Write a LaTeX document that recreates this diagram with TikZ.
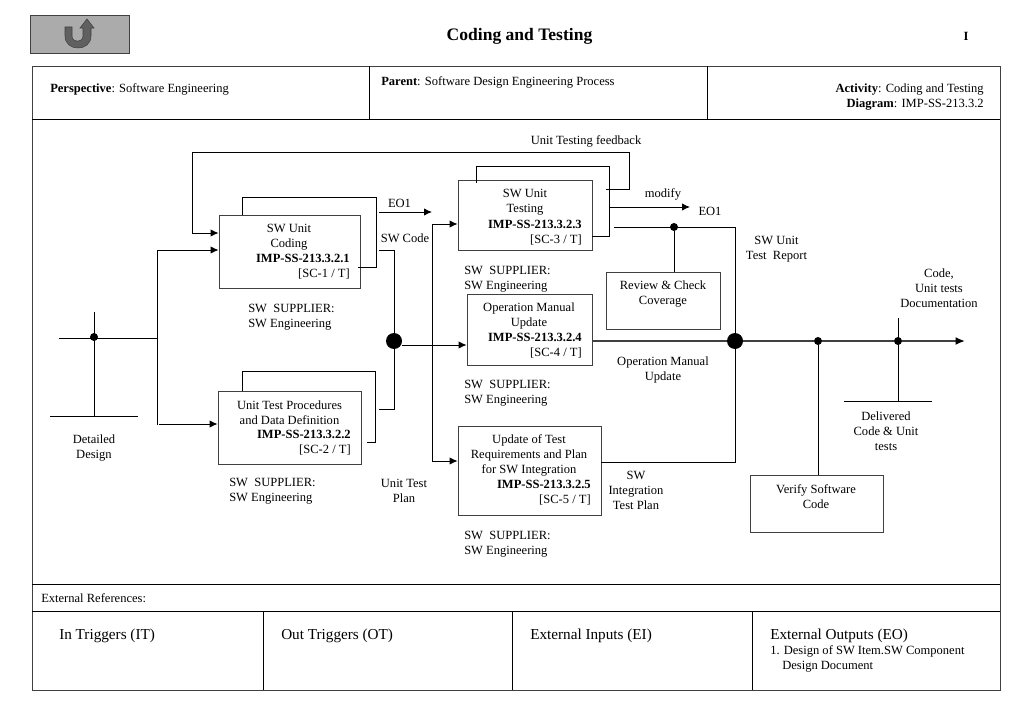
\documentclass[tikz,border=0pt]{standalone}
\usepackage{fontspec}
\setmainfont{Liberation Serif}
\usetikzlibrary{arrows.meta,fit}
\definecolor{btngray}{HTML}{ABABAB}
\definecolor{btndark}{HTML}{606060}
\definecolor{wiregray}{HTML}{404040}
\tikzset{
every node/.style={font=\fontsize{9.4}{11.25}\selectfont,inner sep=0pt},
procbox/.style={draw=wiregray,line width=0.65pt,inner sep=0pt},
wire/.style={draw=black,line width=0.65pt},
arrowwire/.style={wire,-{Latex[length=6pt,width=5.5pt]}},
mainwire/.style={draw=wiregray,line width=1.4pt},
smalldot/.style={circle,fill=black,minimum size=6pt},
bigdot/.style={circle,fill=black,minimum size=12pt},
lbl/.style={align=center},
suplbl/.style={align=left,anchor=west},
idlbl/.style={align=right,anchor=east},
colhead/.style={anchor=west,font=\fontsize{11.4}{13}\selectfont}
}
\begin{document}
\begin{tikzpicture}[x=0.75pt,y=-0.75pt]
\useasboundingbox (0,0) rectangle (1024,720);
% top strip
\node (btn) [fit={(30,15) (129,53)},fill=btngray,draw=wiregray,line width=0.6pt] {};
\fill[btndark,draw=wiregray,line width=0.4pt] (65,27) -- (72,27) -- (72,36) .. controls (72,43) and (83,43) .. (83,36) -- (83,28) -- (80,28) -- (87,19) -- (94,28) -- (91,28) -- (91,36) .. controls (91,52) and (65,52) .. (65,36) -- cycle;
% frame
\node (frame) [fit={(32,66) (1000,690)},draw=wiregray,line width=0.7pt] {};
\draw[wire] (32,119) -- (1000,119);
\draw[wire] (32,584) -- (1000,584);
\draw[wire] (32,611) -- (1000,611);
\draw[wire] (369,66) -- (369,119);
\draw[wire] (707,66) -- (707,119);
\draw[wire] (263,611) -- (263,690);
\draw[wire] (512,611) -- (512,690);
\draw[wire] (752,611) -- (752,690);
% boxes
\node (unitcoding) [procbox,fit={(219,215) (360,288)}] {};
\node (testproc) [procbox,fit={(218,391) (361,464)}] {};
\node (unittest) [procbox,fit={(458,180) (592,250)}] {};
\node (opmanual) [procbox,fit={(467,294) (592,365)}] {};
\node (updtest) [procbox,fit={(458,426) (601,515)}] {};
\node (review) [procbox,fit={(606,272) (720,329)}] {};
\node (verify) [procbox,fit={(750,475) (883,532)}] {};
% all the texts
\begin{scope}[every node/.append style={yshift=-1.1pt}]
\node (title) at (519.5,35) {\fontsize{13.15}{15}\selectfont\textbf{Coding and Testing}};
\node (pagenum) at (966,35) {\textbf{I}};
\node (persp) [anchor=west] at (50,88) {\textbf{Perspective}: Software Engineering};
\node (parent) [anchor=west] at (381,81) {\textbf{Parent}: Software Design Engineering Process};
\node (activity) [idlbl] at (984,95.5) {\textbf{Activity}: Coding and Testing\\\textbf{Diagram}: IMP-SS-213.3.2};
\node (extref) [anchor=west] at (41,597) {External References:};
\node (intrig) [colhead] at (59,634) {In Triggers (IT)};
\node (outtrig) [colhead] at (281,634) {Out Triggers (OT)};
\node (extin) [colhead] at (530,634) {External Inputs (EI)};
\node (extout) [colhead] at (770,634) {External Outputs (EO)};
\node (eoitem) [anchor=west] at (770,650) {1. Design of SW Item.SW Component};
\node (eoitemb) [anchor=west] at (782,665) {Design Document};
\node (tcoding) [lbl] at (289,235.5) {SW Unit\\Coding};
\node (icoding) [idlbl] at (350,265.5) {\textbf{IMP-SS-213.3.2.1}\\{[SC-1 / T]}};
\node (tproc) [lbl] at (289.5,411.5) {Unit Test Procedures\\and Data Definition};
\node (iproc) [idlbl] at (351,441.5) {\textbf{IMP-SS-213.3.2.2}\\{[SC-2 / T]}};
\node (ttest) [lbl] at (525,200.5) {SW Unit\\Testing};
\node (itest) [idlbl] at (582,231.5) {\textbf{IMP-SS-213.3.2.3}\\{[SC-3 / T]}};
\node (tmanual) [lbl] at (529,314.5) {Operation Manual\\Update};
\node (imanual) [idlbl] at (582,344.5) {\textbf{IMP-SS-213.3.2.4}\\{[SC-4 / T]}};
\node (tupd) [lbl] at (529,454) {Update of Test\\Requirements and Plan\\for SW Integration};
\node (iupd) [idlbl] at (591,491.5) {\textbf{IMP-SS-213.3.2.5}\\{[SC-5 / T]}};
\node (treview) [lbl] at (663,292.5) {Review \& Check\\Coverage};
\node (tverify) [lbl] at (816,495.5) {Verify Software\\Code};
\node (supa) [suplbl] at (248,315.5) {SW\ \ SUPPLIER:\\SW Engineering};
\node (supb) [suplbl] at (229,489.5) {SW\ \ SUPPLIER:\\SW Engineering};
\node (supc) [suplbl] at (464,277.5) {SW\ \ SUPPLIER:\\SW Engineering};
\node (supd) [suplbl] at (464,391.5) {SW\ \ SUPPLIER:\\SW Engineering};
\node (supe) [suplbl] at (464,542.5) {SW\ \ SUPPLIER:\\SW Engineering};
\node (ldesign) [lbl] at (94,446.5) {Detailed\\Design};
\node (leoa) at (399.5,202) {EO1};
\node (lcode) at (405,237) {SW Code};
\node (lplan) [lbl] at (404,489.5) {Unit Test\\Plan};
\node (lmodify) at (663,193) {modify};
\node (leob) at (710,210) {EO1};
\node (lfeedback) at (586,140) {Unit Testing feedback};
\node (lreport) [lbl] at (776.5,247.5) {SW Unit\\Test\ \ Report};
\node (loutput) [lbl] at (939,287) {Code,\\Unit tests\\Documentation};
\node (lmanual) [lbl] at (663,368.5) {Operation Manual\\Update};
\node (lintplan) [lbl] at (636,489) {SW\\Integration\\Test Plan};
\node (ldeliv) [lbl] at (886,429.5) {Delivered\\Code \& Unit\\tests};
\end{scope}
% junctions
\node (jinput) [smalldot] at (94,337) {};
\node (jmerge) [bigdot] at (394,341) {};
\node (jout) [bigdot] at (735,341) {};
\node (jreview) [smalldot] at (674,227) {};
\node (jverify) [smalldot] at (818,341) {};
\node (jdeliv) [smalldot] at (898,341) {};
% free ends
\coordinate (intop) at (94,312);
\coordinate (inbase) at (94,416);
\coordinate (inbarl) at (50,416);
\coordinate (inbarr) at (138,416);
\coordinate (inleft) at (59,338);
\coordinate (split) at (157,338);
\coordinate (splitt) at (157,250);
\coordinate (splitb) at (157,425);
\coordinate (outb) at (159,424);
\coordinate (fbstart) at (606,189);
\coordinate (fbcorner) at (629,152);
\coordinate (fbin) at (192,233);
\coordinate (codeout) at (379,250);
\coordinate (planout) at (379,409);
\coordinate (eoin) at (379,212);
\coordinate (eoend) at (432,212);
\coordinate (feedt) at (432,224);
\coordinate (feedb) at (432,461);
\coordinate (feedm) at (432,345);
\coordinate (modstart) at (610,207);
\coordinate (modend) at (690,207);
\coordinate (repstart) at (614,227);
\coordinate (repcorner) at (735,227);
\coordinate (intcorner) at (735,462);
\coordinate (mainend) at (965,341);
\coordinate (delivtop) at (898,318);
\coordinate (delivbase) at (898,401);
\coordinate (delivl) at (844,401);
\coordinate (delivr) at (932,401);
% input
\draw[wire] (intop) -- (inbase);
\draw[wire] (inbarl) -- (inbarr);
\draw[wire] (inleft) -- (split);
\draw[wire] (splitt) -- (splitb);
\draw[arrowwire] (splitt) -- (splitt -| unitcoding.west);
\draw[arrowwire] (outb) -- (outb -| testproc.west);
% self loops
\draw[wire] (242,215) |- (376,197) |- (358,267);
\draw[wire] (242,391) |- (375,371) |- (367,442);
\draw[wire] (476,183) |- (609,166) |- (unittest.east |- 0,236);
% feedback
\draw[arrowwire] (fbstart) -| (fbcorner) -| (fbin) -- (fbin -| unitcoding.west);
% outputs of the two left boxes
\draw[wire] (codeout) -| (jmerge);
\draw[wire] (planout) -| (jmerge);
\draw[arrowwire] (eoin) -- (eoend);
\draw[arrowwire] (jmerge.east |- feedm) -- (feedm -| opmanual.west);
\draw[wire] (feedt) -- (feedb);
\draw[arrowwire] (feedt) -- (feedt -| unittest.west);
\draw[arrowwire] (feedb) -- (feedb -| updtest.west);
\draw[arrowwire] (modstart) -- (modend);
% right side
\draw[wire] (repstart) -- (repcorner) -- (intcorner) -- (intcorner -| updtest.east);
\draw[wire] (jreview) -- (review.north -| jreview);
\draw[mainwire] (opmanual.east |- jout) -- (jout);
\draw[mainwire] (jout) -- (jverify);
\draw[mainwire] (jverify) -- (jdeliv);
\draw[mainwire,-{Latex[length=7pt,width=6pt,color=black]}] (jdeliv) -- (mainend);
\draw[wire] (jverify) -- (verify.north -| jverify);
\draw[wire] (delivtop) -- (delivbase);
\draw[wire] (delivl) -- (delivr);
\end{tikzpicture}
\end{document}
